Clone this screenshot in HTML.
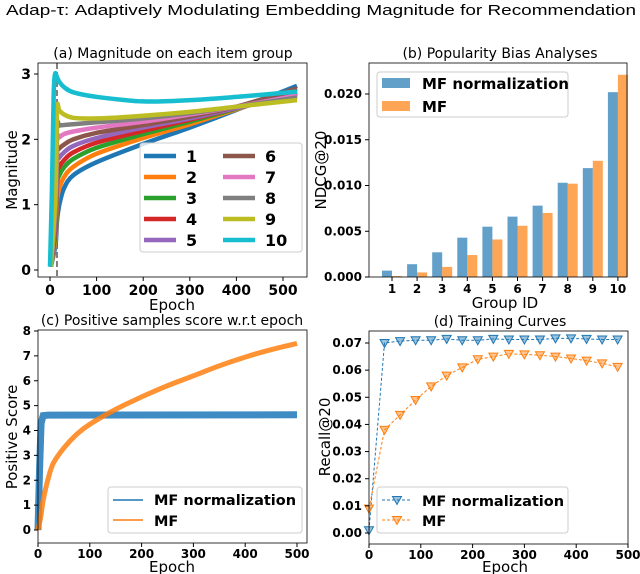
<!DOCTYPE html>
<html><head><meta charset="utf-8">
<style>
html,body{margin:0;padding:0;background:#fff;}
svg{display:block;}
text{font-family:"DejaVu Sans","Liberation Sans",sans-serif;}
.tk{font-size:12px;font-weight:bold;fill:#000;}
.ttl{font-size:14px;fill:#000;}
.lbl{font-size:15px;fill:#000;}
.lg{font-size:14.5px;font-weight:bold;fill:#000;}
</style></head>
<body>
<svg id="fig" width="640" height="574" viewBox="0 0 640 574" xmlns="http://www.w3.org/2000/svg">
<text x="6" y="15" font-size="15" textLength="630" lengthAdjust="spacingAndGlyphs" style="font-family:'Liberation Sans',sans-serif">Adap-τ: Adaptively Modulating Embedding Magnitude for Recommendation</text>
</svg>
<script>
// ===== Panel (a) data =====
const aEpochs10 = [0, 4, 8, 11, 15, 20, 30, 50, 100, 200, 300, 400, 530];
const aGroup10 = [0.05, 1.2, 2.7, 3.0, 2.95, 2.88, 2.8, 2.72, 2.65, 2.58, 2.6, 2.65, 2.73];
const aEpochs = [2, 12, 15, 20, 30, 50, 100, 200, 300, 400, 530];
const aGroups = [
  [0.05, 0.4, 0.75, 1.0, 1.25, 1.45, 1.65, 1.93, 2.18, 2.45, 2.82],
  [0.05, 0.5, 1.05, 1.25, 1.42, 1.58, 1.78, 2.02, 2.23, 2.46, 2.75],
  [0.05, 0.6, 1.3, 1.45, 1.57, 1.7, 1.87, 2.08, 2.27, 2.47, 2.72],
  [0.05, 0.7, 1.45, 1.58, 1.68, 1.8, 1.95, 2.13, 2.3, 2.48, 2.70],
  [0.05, 0.8, 1.62, 1.72, 1.8, 1.9, 2.02, 2.18, 2.32, 2.48, 2.68],
  [0.05, 0.9, 1.78, 1.86, 1.92, 2.0, 2.1, 2.22, 2.35, 2.5, 2.78],
  [0.05, 1.0, 1.98, 2.03, 2.08, 2.12, 2.18, 2.27, 2.38, 2.5, 2.67],
  [0.05, 1.1, 2.18, 2.21, 2.22, 2.23, 2.26, 2.32, 2.4, 2.5, 2.64],
  [0.05, 1.2, 2.45, 2.44, 2.38, 2.33, 2.32, 2.36, 2.42, 2.5, 2.60]
];
const aColors = ['#1f77b4','#ff7f0e','#2ca02c','#d62728','#9467bd','#8c564b','#e377c2','#7f7f7f','#bcbd22','#17becf'];
const aXTicks = [0,100,200,300,400,500];
const aYTicks = [0,1,2,3];
const aDash = 15;
// ===== Panel (b) data =====
const bGroups = ['1','2','3','4','5','6','7','8','9','10'];
const bNorm = [0.0007,0.0014,0.0027,0.0043,0.0055,0.0066,0.0078,0.0103,0.0119,0.0202];
const bMF = [0.0001,0.0005,0.0011,0.0024,0.0041,0.0056,0.0070,0.0102,0.0127,0.0221];
const bYTicks = ['0.000','0.005','0.010','0.015','0.020'];
// ===== Panel (c) data =====
const cNormEpochs = [0, 3, 6, 10, 20, 500];
const cNormVals = [0, 2.5, 4.3, 4.6, 4.62, 4.63];
const cMFEpochs = [0,5,10,20,30,50,75,100,150,200,250,300,350,400,450,500];
const cMFVals = [0,0.5,1.2,2.1,2.7,3.3,3.85,4.25,4.85,5.35,5.8,6.2,6.6,6.95,7.25,7.5];
const cXTicks = [0,100,200,300,400,500];
const cYTicks = [0,1,2,3,4,5,6,7,8];
// ===== Panel (d) data =====
const dEpochs = [0,30,60,90,120,150,180,210,240,270,300,330,360,390,420,450,480];
const dNorm = [0.001,0.070,0.0707,0.071,0.071,0.0715,0.071,0.071,0.0715,0.0713,0.0713,0.0713,0.0717,0.0717,0.0715,0.0713,0.0713];
const dMF = [0.009,0.038,0.0435,0.049,0.054,0.058,0.061,0.064,0.065,0.066,0.0658,0.0655,0.065,0.0643,0.0635,0.0625,0.0612];
const dXTicks = [0,100,200,300,400,500];
const dYTicks = ['0.00','0.01','0.02','0.03','0.04','0.05','0.06','0.07'];

const NS='http://www.w3.org/2000/svg';
const fig=document.getElementById('fig');
function mk(tag,attrs,parent){const e=document.createElementNS(NS,tag);for(const k in attrs)e.setAttribute(k,attrs[k]);(parent||fig).appendChild(e);return e;}
function txt(s,x,y,cls,anchor,parent){const t=mk('text',{x:x,y:y,class:cls,'text-anchor':anchor||'middle'},parent);t.textContent=s;return t;}
function lin(d0,d1,r0,r1){return v=>r0+(v-d0)*(r1-r0)/(d1-d0);}
function pathD(xs,ys,X,Y){return xs.map((e,i)=>(i?'L':'M')+X(e).toFixed(1)+','+Y(ys[i]).toFixed(1)).join('');}
function smoothD(xs,ys,X,Y){
 const P=xs.map((e,i)=>[X(e),Y(ys[i])]);let d='M'+P[0][0].toFixed(1)+','+P[0][1].toFixed(1);
 for(let i=0;i<P.length-1;i++){const p0=P[Math.max(0,i-1)],p1=P[i],p2=P[i+1],p3=P[Math.min(P.length-1,i+2)];
  const c1=[p1[0]+(p2[0]-p0[0])/6,p1[1]+(p2[1]-p0[1])/6],c2=[p2[0]-(p3[0]-p1[0])/6,p2[1]-(p3[1]-p1[1])/6];
  d+=`C${c1[0].toFixed(1)},${c1[1].toFixed(1)} ${c2[0].toFixed(1)},${c2[1].toFixed(1)} ${p2[0].toFixed(1)},${p2[1].toFixed(1)}`;}
 return d;}
function frame(x0,y0,x1,y1,name){const r=mk('rect',{x:x0,y:y0,width:x1-x0,height:y1-y0,fill:'none',stroke:'#000','stroke-width':0.8});}

// ===== Panel (a) =====
{
const g=mk('g',{});


const X=lin(0,500,50,283), Y=lin(0,3,270,74);
mk('clipPath',{id:'ca'},g).appendChild(mk('rect',{x:38,y:63,width:269,height:214},g));
mk('line',{x1:X(aDash),x2:X(aDash),y1:63,y2:277,stroke:'#808080','stroke-width':2,'stroke-dasharray':'6,3'},g);
const lg=mk('g',{'clip-path':'url(#ca)'},g);
for(let i=0;i<9;i++){const p=mk('path',{d:smoothD(aEpochs,aGroups[i],X,Y),fill:'none',stroke:aColors[i],'stroke-width':4.5,'stroke-linejoin':'round'},lg);}
const p10=mk('path',{d:smoothD(aEpochs10,aGroup10,X,Y),fill:'none',stroke:aColors[9],'stroke-width':4.5,'stroke-linejoin':'round'},lg);


frame(38,63,307,277,'panel-a-frame');
aXTicks.forEach(v=>{mk('line',{x1:X(v),x2:X(v),y1:277,y2:281,stroke:'#000'},g);txt(String(v),X(v),295,'tk','middle',g).setAttribute('style','font-size:14px');});
aYTicks.forEach(v=>{mk('line',{x1:34,x2:38,y1:Y(v),y2:Y(v),stroke:'#000'},g);txt(String(v),31,Y(v)+5,'tk','end',g).setAttribute('style','font-size:14px');});
const t=txt('(a) Magnitude on each item group',173,58,'ttl','middle',g);
const xl=txt('Epoch',172,310,'lbl','middle',g);
const yl=txt('Magnitude',0,0,'lbl','middle',g);yl.setAttribute('transform','translate(17,170) rotate(-90)');
const lb=mk('rect',{x:140,y:143,width:162,height:109,rx:3,fill:'#fff','fill-opacity':0.8,stroke:'#ccc'},g);
for(let i=0;i<10;i++){const col=i<5?0:1,row=i%5;const lx=144+col*79,ly=156+row*21;
 const e=mk('line',{x1:lx,x2:lx+32,y1:ly,y2:ly,stroke:aColors[i],'stroke-width':4.5},g);
 txt(String(i+1),lx+42,ly+6,'lg','start',g).setAttribute('style','font-size:16px');}
}
// ===== Panel (b) =====
{
const g=mk('g',{});


const Y=lin(0,0.020,277,94); const X=i=>392+i*25.1;
bGroups.forEach((c,i)=>{
 const b1=mk('rect',{x:X(i)-10,y:Y(bNorm[i]),width:10,height:277-Y(bNorm[i]),fill:'#1f77b4','fill-opacity':0.7},g);
 const b2=mk('rect',{x:X(i),y:Y(bMF[i]),width:10,height:277-Y(bMF[i]),fill:'#ff7f0e','fill-opacity':0.7},g);
 mk('line',{x1:X(i),x2:X(i),y1:277,y2:281,stroke:'#000'},g);txt(c,X(i),293,'tk','middle',g);});
frame(369,63,627,277,'panel-b-frame');
bYTicks.forEach(s=>{const v=parseFloat(s);mk('line',{x1:365,x2:369,y1:Y(v),y2:Y(v),stroke:'#000'},g);txt(s,362,Y(v)+4,'tk','end',g);});
const t=txt('(b) Popularity Bias Analyses',500,58,'ttl','middle',g);
const xl=txt('Group ID',505,308,'lbl','middle',g);
const yl=txt('NDCG@20',0,0,'lbl','middle',g);yl.setAttribute('transform','translate(326,170) rotate(-90)');
const lb=mk('rect',{x:377,y:72,width:191,height:45,rx:3,fill:'#fff','fill-opacity':0.8,stroke:'#ccc'},g);
const e1=mk('rect',{x:382,y:78,width:28,height:10,fill:'#1f77b4','fill-opacity':0.7},g);
txt('MF normalization',422,89,'lg','start',g).setAttribute('style','font-size:15px');
const e2=mk('rect',{x:382,y:101,width:28,height:10,fill:'#ff7f0e','fill-opacity':0.7},g);
txt('MF',422,112,'lg','start',g).setAttribute('style','font-size:15px');
}
// ===== Panel (c) =====
{
const g=mk('g',{});


const X=lin(0,500,38,297), Y=lin(0,8,530,331);
const pb=mk('path',{d:pathD(cNormEpochs,cNormVals,X,Y),fill:'none',stroke:'#3f8bc4','stroke-width':7},g);
const po=mk('path',{d:smoothD(cMFEpochs,cMFVals,X,Y),fill:'none',stroke:'#ff7f0e','stroke-opacity':0.85,'stroke-width':5,'stroke-linejoin':'round'},g);
frame(38,330,307,543,'panel-c-frame');
cXTicks.forEach(v=>{mk('line',{x1:X(v),x2:X(v),y1:543,y2:547,stroke:'#000'},g);txt(String(v),X(v),558,'tk','middle',g);});
cYTicks.forEach(v=>{mk('line',{x1:34,x2:38,y1:Y(v),y2:Y(v),stroke:'#000'},g);txt(String(v),31,Y(v)+4,'tk','end',g);});
const t=txt('(c) Positive samples score w.r.t epoch',172,325,'ttl','middle',g);
const xl=txt('Epoch',172,572,'lbl','middle',g);
const yl=txt('Positive Score',0,0,'lbl','middle',g);yl.setAttribute('transform','translate(17,437) rotate(-90)');
const lb=mk('rect',{x:108,y:487,width:194,height:46,rx:3,fill:'#fff','fill-opacity':0.8,stroke:'#ccc'},g);
const e1=mk('line',{x1:113,x2:143,y1:500,y2:500,stroke:'#1f77b4','stroke-width':1.5},g);
txt('MF normalization',154,505,'lg','start',g);
const e2=mk('line',{x1:113,x2:143,y1:520,y2:520,stroke:'#ff7f0e','stroke-width':1.5},g);
txt('MF',154,526,'lg','start',g);
}
// ===== Panel (d) =====
{
const g=mk('g',{});


const X=lin(0,500,369,628), Y=lin(0,0.07,533,343);
function series(vals,col,name){
 const p=mk('path',{d:pathD(dEpochs,vals,X,Y),fill:'none',stroke:col,'stroke-width':1,'stroke-dasharray':'3,2'},g);
 dEpochs.forEach((e,i)=>{const x=X(e),y=Y(vals[i]);const m=mk('path',{d:`M${x-4.5},${y-3.5}L${x+4.5},${y-3.5}L${x},${y+4.5}Z`,fill:col,'fill-opacity':0.45,stroke:col,'stroke-width':1},g);});
}
series(dNorm,'#1f77b4','mf-normalization');
series(dMF,'#ff7f0e','mf');
frame(369,331,628,544,'panel-d-frame');
dXTicks.forEach(v=>{mk('line',{x1:X(v),x2:X(v),y1:544,y2:548,stroke:'#000'},g);txt(String(v),X(v),559,'tk','middle',g);});
dYTicks.forEach(s=>{const v=parseFloat(s);mk('line',{x1:365,x2:369,y1:Y(v),y2:Y(v),stroke:'#000'},g);txt(s,362,Y(v)+4,'tk','end',g);});
const t=txt('(d) Training Curves',500,326,'ttl','middle',g);
const xl=txt('Epoch',505,572,'lbl','middle',g);
const yl=txt('Recall@20',0,0,'lbl','middle',g);yl.setAttribute('transform','translate(330,437) rotate(-90)');
const lb=mk('rect',{x:377,y:487,width:191,height:46,rx:3,fill:'#fff','fill-opacity':0.8,stroke:'#ccc'},g);
[['#1f77b4',500,'MF normalization'],['#ff7f0e',520,'MF']].forEach(([c,y,s])=>{
 const e=mk('line',{x1:382,x2:412,y1:y,y2:y,stroke:c,'stroke-width':1,'stroke-dasharray':'3,2'},g);
 mk('path',{d:`M392.5,${y-3.5}L401.5,${y-3.5}L397,${y+4.5}Z`,fill:c,'fill-opacity':0.45,stroke:c},g);
 txt(s,422,y+6,'lg','start',g);});
}
</script>
</body></html>
